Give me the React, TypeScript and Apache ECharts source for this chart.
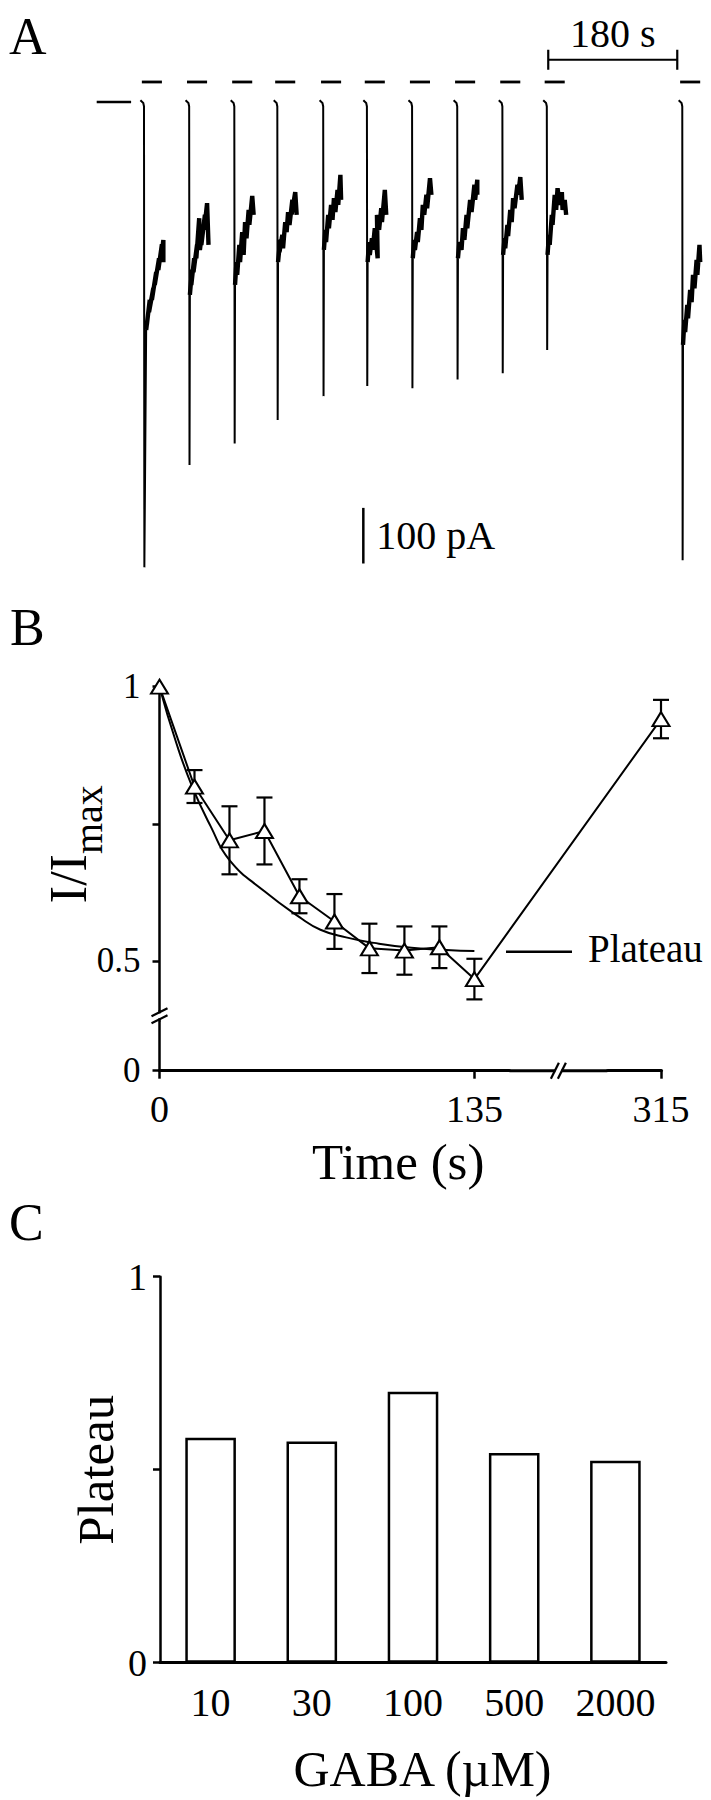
import React, { useEffect, useRef } from "react";
import * as echarts from "echarts";

const FONT = "'Liberation Serif', 'DejaVu Serif', 'Times New Roman', serif";
const INK = "#000";

// ---------------- Panel A : whole-cell current traces ----------------
// display time (s) of each GABA application, and peak current (pA)
const traceOnsets = [0, 63, 126, 186, 250, 311, 374, 437, 500, 562, 751];
const tracePeaks = [-837, -653, -614, -572, -529, -511, -515, -499, -488, -446, -824];
// small hook at the start of every trace [dt s, pA]
const traceHook = [[-5, 3], [-1, -2], [0, -8]];
// desensitising (noisy) part of each trace [dt s, pA]
const traceNoise: number[][][] = [
  [[3, -410], [6, -378], [4, -400], [8, -356], [7, -378], [13, -335], [11, -356], [17, -306], [15, -329], [21, -281], [20, -302], [25, -256], [24, -281], [27, -248], [27, -288]],
  [[1, -347], [4, -302], [3, -329], [7, -281], [6, -306], [11, -257], [10, -281], [14, -209], [15, -266], [18, -234], [17, -257], [22, -203], [21, -230], [25, -182], [27, -257]],
  [[1, -329], [3, -288], [4, -311], [7, -257], [8, -288], [11, -234], [13, -275], [15, -216], [17, -245], [20, -194], [21, -221], [25, -169], [27, -203]],
  [[1, -288], [4, -248], [3, -270], [7, -239], [8, -263], [11, -216], [13, -234], [15, -198], [17, -221], [21, -176], [20, -202], [25, -162], [27, -203]],
  [[1, -266], [3, -230], [4, -252], [7, -203], [8, -227], [11, -185], [13, -212], [15, -173], [17, -198], [20, -158], [21, -185], [24, -131], [25, -176]],
  [[1, -288], [3, -252], [4, -275], [7, -245], [8, -266], [11, -227], [15, -281], [14, -203], [17, -230], [20, -191], [21, -216], [25, -158], [27, -203]],
  [[1, -281], [3, -248], [4, -266], [7, -234], [8, -252], [11, -209], [13, -230], [15, -185], [17, -203], [20, -167], [21, -191], [25, -137], [27, -167]],
  [[1, -281], [3, -252], [6, -266], [8, -227], [10, -248], [13, -203], [14, -227], [18, -176], [20, -198], [24, -149], [25, -176], [28, -140], [28, -167]],
  [[1, -275], [3, -245], [4, -263], [7, -221], [8, -241], [11, -194], [13, -216], [15, -173], [17, -191], [21, -149], [22, -167], [25, -135], [27, -176]],
  [[1, -275], [3, -239], [4, -257], [7, -203], [8, -221], [11, -167], [13, -194], [15, -155], [18, -185], [21, -162], [22, -194], [25, -176], [27, -203]],
  [[1, -437], [3, -392], [4, -414], [7, -365], [8, -389], [11, -338], [13, -360], [15, -311], [17, -335], [20, -284], [21, -311], [24, -257], [25, -288]],
];
const dashSpan = [-3, 25]; // application bar relative to onset (s)
const dashLevel = 36; // pA
const baselineSpan = [-66, -18];
const timeBar = [564, 744]; // 180 s
const timeBarLevel = 76;
const timeBarTick = 18;
const currentBarTime = 306;
const currentBar = [-730, -830]; // 100 pA

// ---------------- Panel B : I/Imax vs time ----------------
const timePoints = [0, 15, 30, 45, 60, 75, 90, 105, 120, 135, 315];
const relCurrent = [1, 0.818, 0.72, 0.737, 0.618, 0.572, 0.523, 0.519, 0.525, 0.467, 0.941];
const relCurrentErr = [0, 0.03, 0.062, 0.061, 0.031, 0.05, 0.045, 0.044, 0.038, 0.037, 0.035];
const fitTime = [0, 7, 14, 22, 30, 45, 60, 69, 80, 92, 108, 123, 135];
const fitValue = [1, 0.9, 0.818, 0.745, 0.684, 0.627, 0.58, 0.557, 0.543, 0.533, 0.524, 0.52, 0.518];
const timeTicks = [0, 135, 315];
const relTicks = [0, 0.5, 0.75, 1];
const relLabels = [0, 0.5, 1];
const xBreak = { start: 150, end: 292, gap: 42 };
const yBreak = { start: 0.09, end: 0.41, gap: 0.02 };

// ---------------- Panel C : plateau vs GABA ----------------
const gabaConc = ["10", "30", "100", "500", "2000"];
const plateauValue = [0.583, 0.573, 0.702, 0.543, 0.523];

export default function App() {
  const ref = useRef<HTMLDivElement>(null);

  useEffect(() => {
    document.body.style.margin = "0";
    const el = ref.current as HTMLDivElement;
    const chart = echarts.init(el, null, { renderer: "svg" });

    const txt = (size: number) => ({ fontFamily: FONT, fontSize: size, lineHeight: size, color: INK });
    const lineOpts = (width: number) => ({
      type: "line",
      xAxisIndex: 0,
      yAxisIndex: 0,
      showSymbol: false,
      symbol: "none",
      silent: true,
      lineStyle: { color: INK, width, join: "miter" },
    });

    const stemSeries = traceOnsets.map((t0, i) => ({
      ...lineOpts(2),
      data: [
        ...traceHook.map(([dt, v]) => [t0 + dt, v]),
        [t0 + 0.5, tracePeaks[i]],
        [t0 + traceNoise[i][0][0], traceNoise[i][0][1]],
      ],
    }));
    const noiseSeries = traceOnsets.map((t0, i) => ({
      ...lineOpts(4.4),
      data: traceNoise[i].map(([dt, v]) => [t0 + dt, v]),
    }));

    const option: any = {
      animation: false,
      backgroundColor: "#fff",
      textStyle: { fontFamily: FONT, color: INK },
      grid: [
        { left: 93.83, top: 46.4, width: 616.4, height: 556, containLabel: false, outerBoundsMode: "none" },
        { left: 159.5, top: 686.7, width: 501.5, height: 384, containLabel: false, outerBoundsMode: "none" },
        { left: 160, top: 1276.7, width: 506, height: 386, containLabel: false, outerBoundsMode: "none" },
      ],
      xAxis: [
        { gridIndex: 0, type: "value", min: -70, max: 790, show: false },
        {
          gridIndex: 1,
          type: "value",
          min: 0,
          max: 315,
          breaks: [xBreak],
          breakArea: { show: false },
          axisLine: { show: true, onZero: false, lineStyle: { color: INK, width: 3 } },
          axisTick: { show: true, customValues: timeTicks, length: 8, lineStyle: { color: INK, width: 2.5 } },
          axisLabel: { customValues: timeTicks, margin: 19, ...txt(38) },
          splitLine: { show: false },
          name: "Time (s)",
          nameLocation: "middle",
          nameGap: 66,
          nameMoveOverlap: false,
          nameTextStyle: { ...txt(51), padding: [0, 24, 0, 0] },
        },
        {
          gridIndex: 2,
          type: "category",
          data: gabaConc,
          axisLine: { show: true, onZero: false, lineStyle: { color: INK, width: 3 } },
          axisTick: { show: false },
          axisLabel: { margin: 20, interval: 0, ...txt(40) },
          splitLine: { show: false },
          name: "GABA (\u00b5M)",
          nameLocation: "middle",
          nameGap: 81,
          nameMoveOverlap: false,
          nameTextStyle: { ...txt(50), padding: [0, 0, 0, 19] },
        },
      ],
      yAxis: [
        { gridIndex: 0, type: "value", min: -900, max: 100, show: false },
        {
          gridIndex: 1,
          type: "value",
          min: 0,
          max: 1,
          breaks: [yBreak],
          breakArea: { show: false },
          axisLine: { show: true, onZero: false, lineStyle: { color: INK, width: 2.5 } },
          axisTick: { show: true, customValues: relTicks, length: 7, lineStyle: { color: INK, width: 2.5 } },
          axisLabel: { customValues: relLabels, margin: 19, ...txt(35) },
          splitLine: { show: false },
          name: "{a|I/I}{b|max}",
          nameLocation: "middle",
          nameGap: 58,
          nameMoveOverlap: false,
          nameTextStyle: {
            fontFamily: FONT,
            color: INK,
            padding: [0, 0, 0, 69],
            rich: {
              a: { fontFamily: FONT, fontSize: 52, lineHeight: 52, verticalAlign: "middle", padding: [0, 0, 14, 0], color: INK },
              b: { fontFamily: FONT, fontSize: 40, lineHeight: 40, verticalAlign: "middle", padding: [26, 0, 0, 0], color: INK },
            },
          },
        },
        {
          gridIndex: 2,
          type: "value",
          min: 0,
          max: 1,
          interval: 0.5,
          axisLine: { show: true, onZero: false, lineStyle: { color: INK, width: 2.5 } },
          axisTick: { show: true, length: 7, lineStyle: { color: INK, width: 2.5 } },
          axisLabel: { customValues: [0, 1], margin: 13, ...txt(38) },
          splitLine: { show: false },
          name: "Plateau",
          nameLocation: "middle",
          nameGap: 39,
          nameMoveOverlap: false,
          nameTextStyle: { ...txt(51) },
        },
      ],
      series: [
        // ---- Panel A ----
        ...stemSeries,
        ...noiseSeries,
        {
          ...lineOpts(2.5),
          data: [[baselineSpan[0], 0], [baselineSpan[1], 0]],
        },
        {
          type: "custom",
          xAxisIndex: 0,
          yAxisIndex: 0,
          clip: false,
          silent: true,
          data: traceOnsets.map((t) => [t, dashLevel]),
          renderItem: (_p: any, api: any) => {
            const t = api.value(0);
            const v = api.value(1);
            const a = api.coord([t + dashSpan[0], v]);
            const b = api.coord([t + dashSpan[1], v]);
            return {
              type: "line",
              shape: { x1: a[0], y1: a[1], x2: b[0], y2: b[1] },
              style: { stroke: INK, lineWidth: 2.8 },
            };
          },
        },
        {
          ...lineOpts(2.2),
          data: [
            [timeBar[0], timeBarLevel + timeBarTick],
            [timeBar[0], timeBarLevel - timeBarTick],
            [timeBar[0], timeBarLevel],
            [timeBar[1], timeBarLevel],
            [timeBar[1], timeBarLevel + timeBarTick],
            [timeBar[1], timeBarLevel - timeBarTick],
          ],
        },
        {
          ...lineOpts(2.5),
          data: [[currentBarTime, currentBar[0]], [currentBarTime, currentBar[1]]],
        },
        // ---- Panel B ----
        {
          type: "line",
          xAxisIndex: 1,
          yAxisIndex: 1,
          smooth: true,
          showSymbol: false,
          symbol: "none",
          silent: true,
          z: 1,
          lineStyle: { color: INK, width: 2 },
          data: fitTime.map((t, i) => [t, fitValue[i]]),
        },
        {
          type: "custom",
          xAxisIndex: 1,
          yAxisIndex: 1,
          z: 2,
          silent: true,
          data: timePoints.map((t, i) => [t, relCurrent[i], relCurrentErr[i]]),
          renderItem: (_p: any, api: any) => {
            const t = api.value(0);
            const v = api.value(1);
            const e = api.value(2);
            if (!e) return { type: "group", children: [] };
            const top = api.coord([t, v + e]);
            const bot = api.coord([t, v - e]);
            const hw = 8;
            const st = { stroke: INK, lineWidth: 2.2 };
            return {
              type: "group",
              children: [
                { type: "line", shape: { x1: top[0], y1: top[1], x2: bot[0], y2: bot[1] }, style: st },
                { type: "line", shape: { x1: top[0] - hw, y1: top[1], x2: top[0] + hw, y2: top[1] }, style: st },
                { type: "line", shape: { x1: bot[0] - hw, y1: bot[1], x2: bot[0] + hw, y2: bot[1] }, style: st },
              ],
            };
          },
        },
        {
          type: "line",
          xAxisIndex: 1,
          yAxisIndex: 1,
          z: 3,
          silent: true,
          symbol: "triangle",
          symbolSize: [17, 14],
          showSymbol: true,
          itemStyle: { color: "#fff", borderColor: INK, borderWidth: 2 },
          lineStyle: { color: INK, width: 2 },
          data: timePoints.map((t, i) => [t, relCurrent[i]]),
        },
        // ---- Panel C ----
        {
          type: "bar",
          xAxisIndex: 2,
          yAxisIndex: 2,
          barWidth: "50%",
          silent: true,
          itemStyle: { color: "#fff", borderColor: INK, borderWidth: 2.5 },
          data: plateauValue,
        },
      ],
    };

    chart.setOption(option);

    // positions derived from the axes
    const pA = (x: number, y: number) => chart.convertToPixel({ gridIndex: 0 }, [x, y]) as number[];
    const pB = (x: number, y: number) => chart.convertToPixel({ gridIndex: 1 }, [x, y]) as number[];
    const tb = pA((timeBar[0] + timeBar[1]) / 2, timeBarLevel);
    const cb = pA(currentBarTime, (currentBar[0] + currentBar[1]) / 2);
    const xa = pB(xBreak.start, 0);
    const xb = pB(xBreak.end, 0);
    const xc = [(xa[0] + xb[0]) / 2, xa[1]];
    const ya = pB(0, yBreak.start);
    const yb = pB(0, yBreak.end);
    const yc = [ya[0], (ya[1] + yb[1]) / 2];
    const sl = { stroke: INK, lineWidth: 2.2 };

    chart.setOption({
      graphic: [
        { type: "text", left: 9, top: 10, style: { text: "A", font: `52px ${FONT}`, fill: INK } },
        { type: "text", left: 10, top: 601, style: { text: "B", font: `52px ${FONT}`, fill: INK } },
        { type: "text", left: 9, top: 1196, style: { text: "C", font: `52px ${FONT}`, fill: INK } },
        // scale-bar labels
        { type: "text", x: tb[0], y: tb[1] - 26, style: { text: "180 s", font: `40px ${FONT}`, fill: INK, align: "center", verticalAlign: "middle" } },
        { type: "text", x: cb[0] + 13, y: cb[1], style: { text: "100 pA", font: `40px ${FONT}`, fill: INK, align: "left", verticalAlign: "middle" } },
        // plateau annotation
        { type: "line", shape: { x1: 506, y1: 951.7, x2: 572, y2: 951.7 }, style: { stroke: INK, lineWidth: 2.5 } },
        { type: "text", x: 588, y: 948, style: { text: "Plateau", font: `39px ${FONT}`, fill: INK, verticalAlign: "middle", align: "left" } },
        // continuous axis lines across the breaks
        { type: "line", shape: { x1: xa[0], y1: xa[1], x2: xb[0], y2: xb[1] }, style: { stroke: INK, lineWidth: 3 }, z: 99 },
        { type: "line", shape: { x1: ya[0], y1: ya[1], x2: yb[0], y2: yb[1] }, style: { stroke: INK, lineWidth: 2.5 }, z: 99 },
        // x-axis break marks
        { type: "rect", shape: { x: xc[0] - 3, y: xc[1] - 2.5, width: 6, height: 5 }, style: { fill: "#fff" }, z: 100 },
        { type: "line", shape: { x1: xc[0] - 7.5, y1: xc[1] + 8, x2: xc[0] + 0.5, y2: xc[1] - 8 }, style: sl, z: 101 },
        { type: "line", shape: { x1: xc[0] - 0.5, y1: xc[1] + 8, x2: xc[0] + 7.5, y2: xc[1] - 8 }, style: sl, z: 101 },
        // y-axis break marks
        { type: "rect", shape: { x: yc[0] - 2.5, y: yc[1] - 2.5, width: 5, height: 5 }, style: { fill: "#fff" }, z: 100 },
        { type: "line", shape: { x1: yc[0] - 8, y1: yc[1] + 0.5, x2: yc[0] + 8, y2: yc[1] - 7.5 }, style: sl, z: 101 },
        { type: "line", shape: { x1: yc[0] - 8, y1: yc[1] + 7.5, x2: yc[0] + 8, y2: yc[1] - 0.5 }, style: sl, z: 101 },
      ],
    });

    return () => chart.dispose();
  }, []);

  return <div ref={ref} style={{ width: 711, height: 1800 }} />;
}
